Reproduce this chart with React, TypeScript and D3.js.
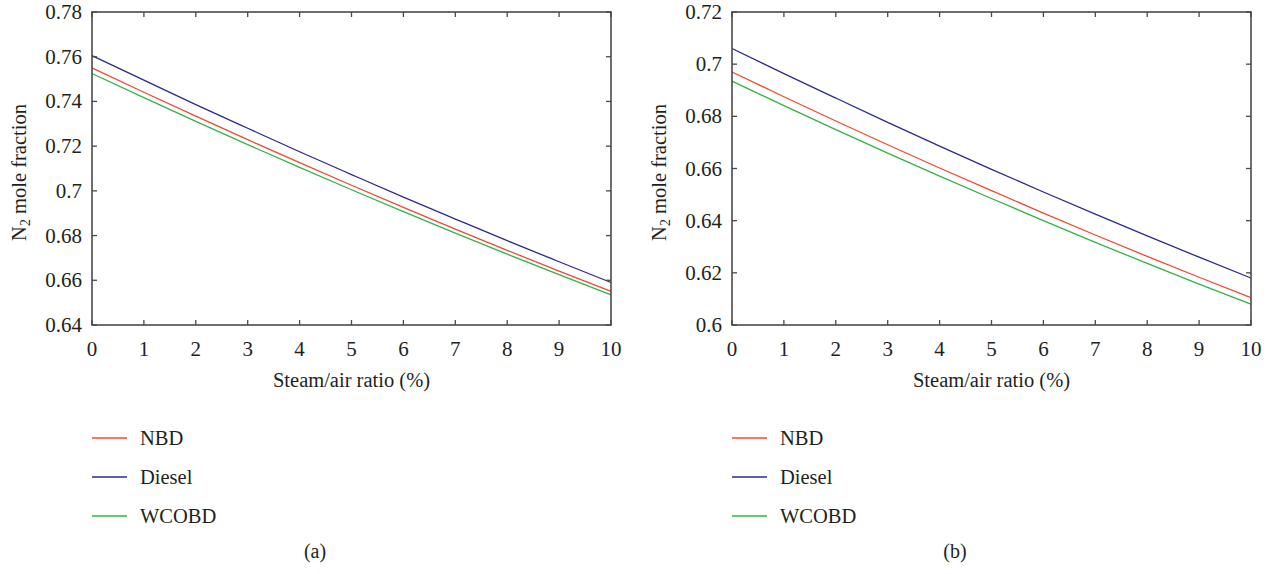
import React from "react";
import * as d3 from "d3";

const xValues = [0, 1, 2, 3, 4, 5, 6, 7, 8, 9, 10];
const seriesNames = ["NBD", "Diesel", "WCOBD"];
const seriesColors = ["#f04a32", "#2b2a8c", "#33b24a"];

// panel (a)
const aNBD = [0.755, 0.7441, 0.7334, 0.7229, 0.7126, 0.7025, 0.6926, 0.6829, 0.6734, 0.6641, 0.655];
const aDiesel = [0.7605, 0.7495, 0.7386, 0.728, 0.7175, 0.7073, 0.6972, 0.6874, 0.6777, 0.6683, 0.659];
const aWCOBD = [0.7525, 0.7417, 0.7311, 0.7207, 0.7105, 0.7005, 0.6907, 0.6811, 0.6717, 0.6625, 0.6535];
const aTicks = ["0.64", "0.66", "0.68", "0.7", "0.72", "0.74", "0.76", "0.78"];

// panel (b)
const bNBD = [0.697, 0.6875, 0.6782, 0.6691, 0.6602, 0.6515, 0.6429, 0.6345, 0.6263, 0.6183, 0.6105];
const bDiesel = [0.706, 0.6964, 0.687, 0.6777, 0.6686, 0.6597, 0.651, 0.6425, 0.6342, 0.626, 0.618];
const bWCOBD = [0.6935, 0.6841, 0.6749, 0.6659, 0.6571, 0.6485, 0.64, 0.6317, 0.6236, 0.6157, 0.608];
const bTicks = ["0.6", "0.62", "0.64", "0.66", "0.68", "0.7", "0.72"];

const FONT = "'Liberation Serif', 'DejaVu Serif', serif";
const AX = "#4a4a4a";
const TXT = "#231f20";

type PanelProps = {
  left: number;
  right: number;
  top: number;
  bottom: number;
  series: number[][];
  yTicks: string[];
  label: string;
};

function Panel({ left, right, top, bottom, series, yTicks, label }: PanelProps) {
  const yMin = +yTicks[0];
  const yMax = +yTicks[yTicks.length - 1];
  const x = d3.scaleLinear().domain([0, 10]).range([left, right]);
  const y = d3.scaleLinear().domain([yMin, yMax]).range([bottom, top]);
  const line = d3
    .line<number>()
    .x((_, i) => x(xValues[i]))
    .y((d) => y(d))
    .curve(d3.curveMonotoneX);
  const tl = 5;
  const cx = (left + right) / 2;
  return (
    <g>
      {series.map((s, i) => (
        <path key={i} d={line(s) || ""} fill="none" stroke={seriesColors[i]} strokeWidth={1.3} />
      ))}
      <rect x={left} y={top} width={right - left} height={bottom - top} fill="none" stroke={AX} strokeWidth={1.6} />
      {xValues.map((v) => (
        <g key={"x" + v}>
          <line x1={x(v)} x2={x(v)} y1={bottom} y2={bottom - tl} stroke={AX} strokeWidth={1.3} />
          <line x1={x(v)} x2={x(v)} y1={top} y2={top + tl} stroke={AX} strokeWidth={1.3} />
          <text x={x(v)} y={bottom + 31} textAnchor="middle" fontFamily={FONT} fontSize={21} fill={TXT}>
            {v}
          </text>
        </g>
      ))}
      {yTicks.map((t) => (
        <g key={"y" + t}>
          <line x1={left} x2={left + tl} y1={y(+t)} y2={y(+t)} stroke={AX} strokeWidth={1.3} />
          <line x1={right} x2={right - tl} y1={y(+t)} y2={y(+t)} stroke={AX} strokeWidth={1.3} />
          <text x={left - 10} y={y(+t) + 7} textAnchor="end" fontFamily={FONT} fontSize={21} fill={TXT}>
            {t}
          </text>
        </g>
      ))}
      <text x={cx} y={bottom + 62} textAnchor="middle" fontFamily={FONT} fontSize={20.5} fill={TXT}>
        Steam/air ratio (%)
      </text>
      <text
        transform={`translate(${left - 66},${(top + bottom) / 2 + 4}) rotate(-90)`}
        textAnchor="middle"
        fontFamily={FONT}
        fontSize={20.5}
        fill={TXT}
      >
        N<tspan fontSize={14} dy={4}>2</tspan>
        <tspan dy={-4}> mole fraction</tspan>
      </text>
      {seriesNames.map((n, i) => (
        <g key={n}>
          <line x1={left} x2={left + 35} y1={438 + i * 39} y2={438 + i * 39} stroke={seriesColors[i]} strokeWidth={1.3} />
          <text x={left + 48} y={445 + i * 39} fontFamily={FONT} fontSize={20.5} fill={TXT}>
            {n}
          </text>
        </g>
      ))}
      <text x={left + 223} y={558} textAnchor="middle" fontFamily={FONT} fontSize={20} fill={TXT}>
        {label}
      </text>
    </g>
  );
}

export default function App() {
  return (
    <svg width={1265} height={574} style={{ display: "block", position: "absolute", left: 0, top: 0 }}>
      <rect width={1281} height={574} fill="#ffffff" />
      <Panel left={92} right={611} top={12} bottom={325} series={[aNBD, aDiesel, aWCOBD]} yTicks={aTicks} label="(a)" />
      <Panel left={732} right={1251} top={12} bottom={325} series={[bNBD, bDiesel, bWCOBD]} yTicks={bTicks} label="(b)" />
    </svg>
  );
}
